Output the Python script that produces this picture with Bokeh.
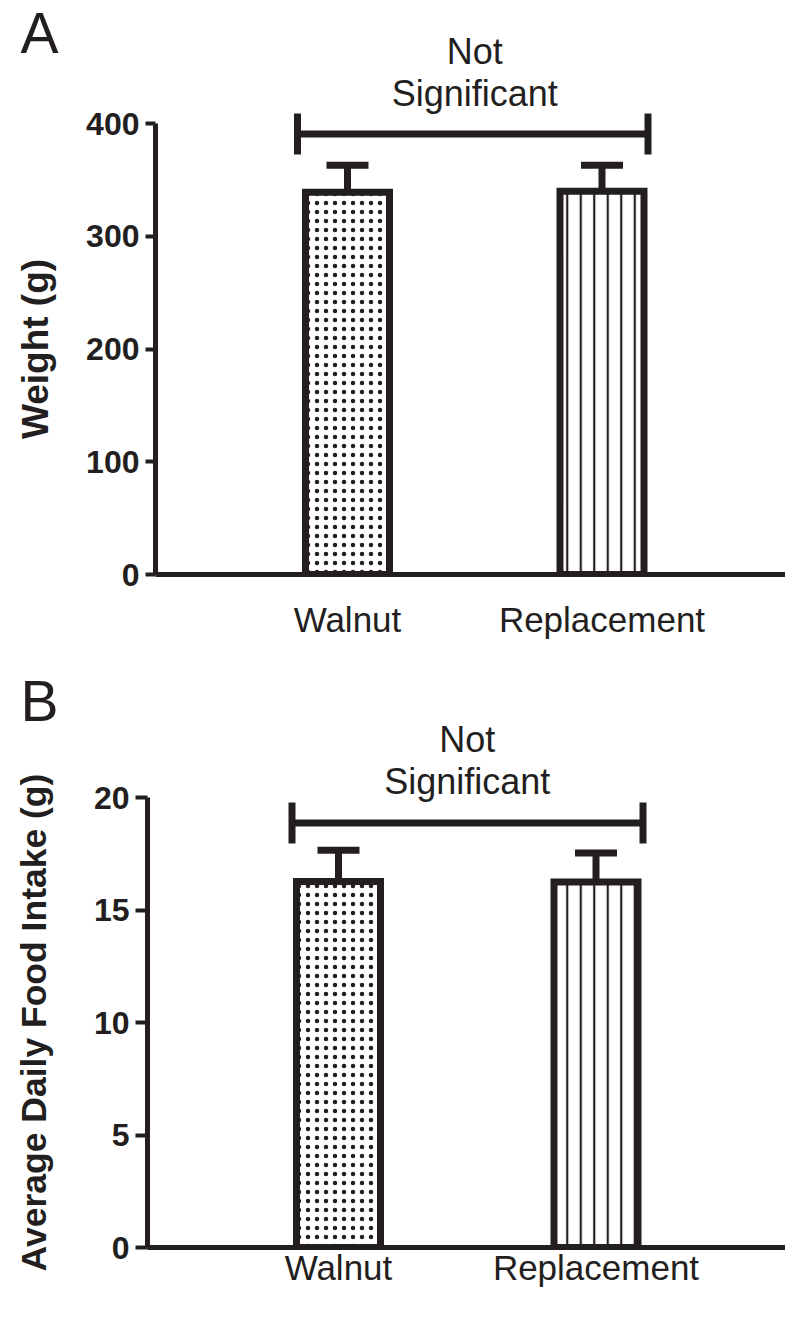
import math
from bokeh.plotting import figure
from bokeh.layouts import column, row
from bokeh.models import Range1d, FixedTicker
from bokeh.embed import file_html
from bokeh.resources import INLINE
from bokeh.core.properties import value

# ---- data ----
groups = ["Walnut", "Replacement"]
weight_mean = [339, 340]
weight_err = [24, 23]
intake_mean = [16.27, 16.24]
intake_err = [1.39, 1.29]
weight_ticks = [0, 100, 200, 300, 400]
intake_ticks = [0, 5, 10, 15, 20]
sig_lines = ["Not", "Significant"]

INK = "#231f20"
FONT = "Liberation Sans"
MID = 0.3465   # em offset between alphabetic baseline and middle baseline

BAR_STYLES = [dict(hatch_pattern="dot", hatch_scale=9, hatch_weight=0.5),
              dict(hatch_pattern="vertical_line", hatch_scale=13.5, hatch_weight=2.2)]
STRIP_W = 60
FIG_W = 785


def setup(p):
    p.outline_line_color = None
    p.grid.visible = False
    p.background_fill_color = "white"
    p.border_fill_color = "white"


def panel(means, errs, ticks, cfg):
    H = cfg["height"]
    W = FIG_W - STRIP_W
    fl = cfg["frame_left"] - STRIP_W
    zero = cfg["zero_page"] - cfg["top_page"]
    ppu = cfg["ppu"]
    unit = cfg["unit"]
    frame_w = FIG_W - cfg["frame_left"]
    x_start = 1 - (cfg["first_center"] - cfg["frame_left"]) / unit
    x_end = x_start + frame_w / unit
    y_end = zero / ppu

    def py(page_y):
        return (cfg["zero_page"] - page_y) / ppu

    p = figure(width=W, height=H, output_backend="svg", toolbar_location=None, title=None,
               x_range=Range1d(x_start, x_end), y_range=Range1d(0, y_end),
               min_border_left=fl, min_border_right=0, min_border_top=0,
               min_border_bottom=H - zero)
    setup(p)

    xs = [i + 1 for i in range(len(groups))]
    bw = cfg["bar_w"] / unit
    cw = cfg["cap_w"] / unit
    for i, x in enumerate(xs):
        top = means[i]
        err = errs[i]
        p.segment(x0=[x], y0=[top], x1=[x], y1=[top + err], line_color=INK, line_width=7, line_cap="butt")
        p.segment(x0=[x - cw / 2], y0=[top + err], x1=[x + cw / 2], y1=[top + err],
                  line_color=INK, line_width=7, line_cap="butt")
        p.vbar(x=[x], top=[top], bottom=0, width=bw, fill_color="white", line_color=INK,
               line_width=7, line_join="miter", hatch_color=INK, **BAR_STYLES[i])

    # significance bracket
    bx0 = xs[0] - cfg["br_left"] / unit
    bx1 = xs[-1] + cfg["br_right"] / unit
    by = py(cfg["br_page"])
    bh = cfg["br_h"] / ppu
    p.segment(x0=[bx0, bx0, bx1], y0=[by, by - bh, by - bh], x1=[bx1, bx0, bx1], y1=[by, by + bh, by + bh],
              line_color=INK, line_width=7, line_cap="butt")
    mid = (xs[0] + xs[-1]) / 2
    fs = 36
    p.text(x=[mid, mid], y=[py(cfg["not_base"] - MID * fs), py(cfg["sig_base"] - MID * fs)], text=sig_lines,
           text_align="center", text_baseline="middle", text_color=INK,
           text_font=value(FONT), text_font_size=f"{fs}px")

    ya = p.yaxis[0]
    ya.ticker = FixedTicker(ticks=ticks)
    ya.bounds = (ticks[0], ticks[-1])
    ya.axis_line_width = 5
    ya.axis_line_color = INK
    ya.major_tick_line_width = 4
    ya.major_tick_line_color = INK
    ya.major_tick_out = cfg["tick_out"]
    ya.major_tick_in = 0
    ya.minor_tick_line_color = None
    ya.major_label_text_font = FONT
    ya.major_label_text_font_style = "bold"
    ya.major_label_text_font_size = "32px"
    ya.major_label_text_color = INK
    ya.major_label_standoff = 6

    xa = p.xaxis[0]
    xa.ticker = FixedTicker(ticks=xs)
    xa.major_label_overrides = {x: g for x, g in zip(xs, groups)}
    xa.axis_line_width = 5
    xa.axis_line_color = INK
    xa.major_tick_line_color = None
    xa.minor_tick_line_color = None
    xa.major_tick_out = 0
    xa.major_tick_in = 0
    xa.major_label_text_font = FONT
    xa.major_label_text_font_size = "35px"
    xa.major_label_text_color = INK
    xa.major_label_standoff = cfg["xlab_standoff"]
    return p


def strip(letter, ylabel, ticks, cfg):
    H = cfg["height"]

    def py(page_y):
        return (cfg["zero_page"] - page_y) / cfg["ppu"]

    s = figure(frame_width=STRIP_W, frame_height=H, output_backend="svg", toolbar_location=None,
               title=None, x_range=Range1d(0, STRIP_W),
               y_range=Range1d(py(cfg["top_page"] + H), py(cfg["top_page"])),
               x_axis_location=None, y_axis_location=None,
               min_border=0, min_border_left=0, min_border_right=0, min_border_top=0, min_border_bottom=0)
    setup(s)
    s.text(x=[cfg["ylab_x"]], y=[(ticks[0] + ticks[-1]) / 2], text=[ylabel], angle=math.pi / 2,
           text_align="center", text_baseline="middle", text_color=INK, text_font=value(FONT),
           text_font_style="bold", text_font_size=cfg["ylab_size"])
    ls = 57
    s.text(x=[20], y=[py(cfg["letter_base"] - MID * ls)], text=[letter], text_align="left",
           text_baseline="middle", text_color=INK, text_font=value(FONT), text_font_size=f"{ls}px")
    return s


cfg_a = dict(height=656, top_page=0, frame_left=155, zero_page=574, ppu=451 / 400, unit=254.5,
             first_center=347, bar_w=84, cap_w=42, br_left=50, br_right=46, br_page=133.5, br_h=20.5,
             not_base=63, sig_base=105, letter_base=52, tick_out=10, ylab_size="37px", ylab_x=35,
             xlab_standoff=25)
cfg_b = dict(height=660, top_page=656, frame_left=147, zero_page=1247, ppu=450 / 20, unit=257.5,
             first_center=338, bar_w=84, cap_w=42, br_left=46.5, br_right=47, br_page=822.5, br_h=20.5,
             not_base=751, sig_base=793, letter_base=720, tick_out=12, ylab_size="35.5px", ylab_x=33,
             xlab_standoff=0)

pa = panel(weight_mean, weight_err, weight_ticks, cfg_a)
sa = strip("A", "Weight (g)", weight_ticks, cfg_a)
pb = panel(intake_mean, intake_err, intake_ticks, cfg_b)
sb = strip("B", "Average Daily Food Intake (g)", intake_ticks, cfg_b)

layout = column(row(sa, pa), row(sb, pb))
open("out.html", "w").write(file_html(layout, INLINE))
